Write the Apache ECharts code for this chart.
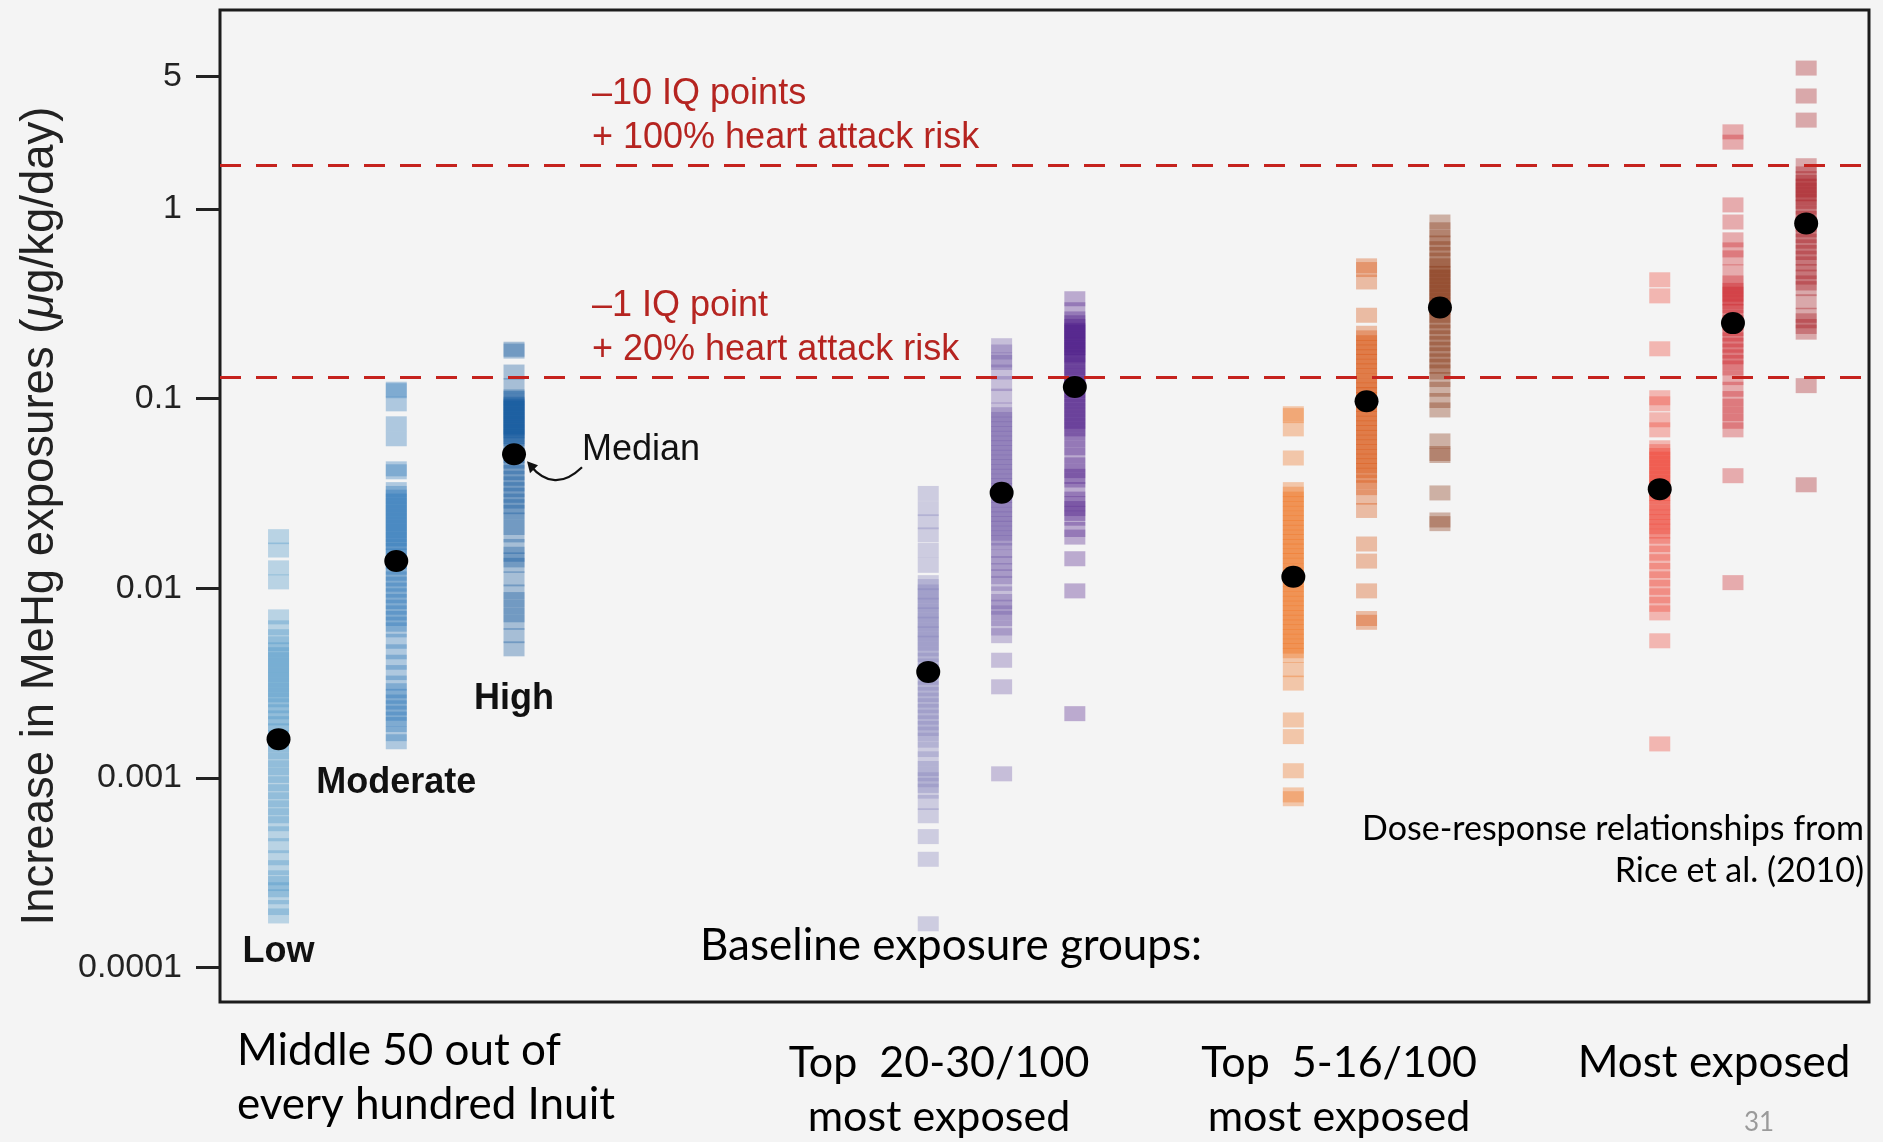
<!DOCTYPE html>
<html>
<head>
<meta charset="utf-8">
<script src="https://cdn.jsdelivr.net/npm/echarts@6/dist/echarts.min.js"></script>
<style>
  html, body { margin: 0; padding: 0; background: #f4f4f4; }
  #chart { width: 1883px; height: 1142px; }
</style>
</head>
<body>
<div id="chart"></div>
<script>
// ---- Axis ticks (µg/kg/day, log scale) ----
const tickValues = [0.0001, 0.001, 0.01, 0.1, 1, 5];
const tickLabels = ['0.0001', '0.001', '0.01', '0.1', '1', '5'];

// ---- Harm thresholds from dose-response relationships ----
const thresholdValues = [1.7, 0.13];
const thresholdTexts = ['–10 IQ points\n+ 100% heart attack risk', '–1 IQ point\n+ 20% heart attack risk'];

// ---- Simulated increases in MeHg exposure, per baseline group and scenario ----
const columnNames = ['Low', 'Moderate', 'High'];

const lowValues = [0.0187, 0.0159, 0.0128, 0.0108, 0.00706, 0.00618, 0.00555, 0.00509, 0.00473, 0.00446,
  0.00420, 0.00394, 0.00372, 0.00350, 0.00329, 0.00310, 0.00291, 0.00274, 0.00258, 0.00240, 0.00223,
  0.00207, 0.00193, 0.00177, 0.00163, 0.00149, 0.00137, 0.00124, 0.00113, 0.00103, 0.000931, 0.000845,
  0.000766, 0.000695, 0.000631, 0.000573, 0.000507, 0.000439, 0.000379, 0.000336, 0.000297, 0.000277,
  0.000257, 0.000236, 0.000207, 0.000187];

const moderateValues = [0.112, 0.110, 0.0938, 0.0736, 0.0614, 0.0426, 0.0411, 0.0331, 0.0316, 0.0302,
  0.0288, 0.0275, 0.0263, 0.0251, 0.0240, 0.0229, 0.0219, 0.0209, 0.0200, 0.0191, 0.0182, 0.0174, 0.0166,
  0.0158, 0.0148, 0.0138, 0.0129, 0.0120, 0.0112, 0.0105, 0.00977, 0.00912, 0.00851, 0.00794, 0.00741,
  0.00692, 0.00646, 0.00603, 0.00525, 0.00462, 0.00407, 0.00359, 0.00316, 0.00288, 0.00269, 0.00251,
  0.00234, 0.00219, 0.00204, 0.00191, 0.00171, 0.00155];

const highValues = [0.182, 0.178, 0.138, 0.117, 0.102, 0.100, 0.0977, 0.0933, 0.0912, 0.0891, 0.0851,
  0.0832, 0.0813, 0.0776, 0.0759, 0.0741, 0.0708, 0.0692, 0.0676, 0.0646, 0.0631, 0.0617, 0.0575, 0.0537,
  0.0501, 0.0468, 0.0437, 0.0407, 0.0380, 0.0355, 0.0331, 0.0309, 0.0288, 0.0269, 0.0251, 0.0229, 0.0209,
  0.0191, 0.0166, 0.0151, 0.0141, 0.0132, 0.0112, 0.00955, 0.00871, 0.00794, 0.00724, 0.00661, 0.00562,
  0.00479];

const top2030LowValues = [0.0316, 0.0263, 0.0224, 0.0191, 0.0158, 0.0132, 0.0107, 0.0102, 0.00955, 0.00912,
  0.00851, 0.00813, 0.00759, 0.00724, 0.00676, 0.00646, 0.00603, 0.00575, 0.00537, 0.00513, 0.00479,
  0.00447, 0.00417, 0.00389, 0.00363, 0.00339, 0.00316, 0.00295, 0.00275, 0.00257, 0.00240, 0.00224,
  0.00209, 0.00195, 0.00182, 0.00170, 0.00158, 0.00141, 0.00126, 0.00112, 0.00105, 0.000977, 0.000912,
  0.000851, 0.000741, 0.000631, 0.000490, 0.000372, 0.000170];

const top2030ModValues = [0.190, 0.176, 0.160, 0.155, 0.138, 0.120, 0.103, 0.0871, 0.0822, 0.0776, 0.0733,
  0.0692, 0.0653, 0.0617, 0.0582, 0.0550, 0.0519, 0.0490, 0.0462, 0.0437, 0.0412, 0.0389, 0.0367, 0.0347,
  0.0327, 0.0309, 0.0292, 0.0275, 0.0260, 0.0245, 0.0232, 0.0219, 0.0207, 0.0195, 0.0184, 0.0174, 0.0158,
  0.0146, 0.0135, 0.0124, 0.0115, 0.0106, 0.00933, 0.00851, 0.00794, 0.00741, 0.00692, 0.00617, 0.00562,
  0.00417, 0.00302, 0.00105];

const top2030HighValues = [0.336, 0.294, 0.263, 0.251, 0.245, 0.240, 0.229, 0.224, 0.219, 0.209, 0.204,
  0.200, 0.191, 0.186, 0.182, 0.174, 0.170, 0.166, 0.158, 0.151, 0.145, 0.138, 0.132, 0.126, 0.120, 0.115,
  0.110, 0.105, 0.100, 0.0955, 0.0912, 0.0871, 0.0832, 0.0794, 0.0759, 0.0724, 0.0692, 0.0661, 0.0603,
  0.0550, 0.0501, 0.0447, 0.0417, 0.0389, 0.0372, 0.0331, 0.0295, 0.0279, 0.0263, 0.0248, 0.0234, 0.0204,
  0.0186, 0.0143, 0.00968, 0.00218];

const top516LowValues = [0.0832, 0.0813, 0.0692, 0.0486, 0.0331, 0.0313, 0.0295, 0.0279, 0.0263, 0.0248,
  0.0234, 0.0221, 0.0209, 0.0197, 0.0186, 0.0176, 0.0166, 0.0157, 0.0148, 0.0140, 0.0132, 0.0124, 0.0117,
  0.0111, 0.0105, 0.00989, 0.00933, 0.00881, 0.00832, 0.00785, 0.00741, 0.00700, 0.00661, 0.00624,
  0.00589, 0.00556, 0.00525, 0.00495, 0.00468, 0.00442, 0.00372, 0.00316, 0.00202, 0.00165, 0.00109,
  0.000813, 0.000776];

const top516ModValues = [0.501, 0.479, 0.412, 0.275, 0.221, 0.209, 0.197, 0.186, 0.176, 0.166, 0.157,
  0.148, 0.140, 0.132, 0.124, 0.117, 0.111, 0.105, 0.0989, 0.0933, 0.0881, 0.0832, 0.0785, 0.0741, 0.0700,
  0.0661, 0.0624, 0.0589, 0.0556, 0.0525, 0.0495, 0.0468, 0.0442, 0.0417, 0.0394, 0.0363, 0.0339, 0.0302,
  0.0257, 0.0171, 0.0139, 0.00968, 0.00692, 0.00661];

const top516HighValues = [0.853, 0.776, 0.708, 0.661, 0.617, 0.575, 0.537, 0.501, 0.479, 0.457, 0.437,
  0.417, 0.398, 0.380, 0.363, 0.347, 0.331, 0.316, 0.302, 0.288, 0.275, 0.257, 0.240, 0.224, 0.209, 0.195,
  0.182, 0.170, 0.158, 0.148, 0.138, 0.126, 0.112, 0.0977, 0.0871, 0.0598, 0.0513, 0.0501, 0.0318, 0.0229,
  0.0219];

const mostLowValues = [0.423, 0.348, 0.183, 0.101, 0.0938, 0.0773, 0.0684, 0.0550, 0.0525, 0.0501, 0.0479,
  0.0457, 0.0437, 0.0417, 0.0398, 0.0380, 0.0363, 0.0347, 0.0331, 0.0316, 0.0302, 0.0282, 0.0266, 0.0251,
  0.0237, 0.0224, 0.0211, 0.0200, 0.0188, 0.0170, 0.0153, 0.0138, 0.0124, 0.0112, 0.0101, 0.00912,
  0.00822, 0.00741, 0.00528, 0.00151];

const mostModValues = [2.55, 2.25, 1.05, 0.853, 0.687, 0.608, 0.552, 0.466, 0.407, 0.389, 0.372, 0.355,
  0.339, 0.324, 0.309, 0.288, 0.269, 0.251, 0.234, 0.219, 0.204, 0.191, 0.178, 0.166, 0.155, 0.145, 0.129,
  0.112, 0.100, 0.0912, 0.0832, 0.0759, 0.0684, 0.0392, 0.0107];

const mostHighValues = [5.53, 3.94, 2.94, 1.69, 1.53, 1.445, 1.380, 1.318, 1.259, 1.202, 1.148, 1.096,
  1.023, 0.955, 0.891, 0.832, 0.776, 0.724, 0.676, 0.631, 0.589, 0.550, 0.513, 0.468, 0.437, 0.407, 0.380,
  0.324, 0.275, 0.257, 0.240, 0.224, 0.117, 0.0351];

// Median of each column, same order as the columns below
const medianValues = [0.0016, 0.0139, 0.0509, 0.00362, 0.0319, 0.115, 0.0115, 0.0968, 0.302, 0.0333, 0.250, 0.839];

// Group captions under the plot
const groupCaptions = [
  'Middle 50 out of\nevery hundred Inuit',
  'Top  20-30/100\nmost exposed',
  'Top  5-16/100\nmost exposed',
  'Most exposed'
];

// ---- Layout / styling ----
const columnSets = [lowValues, moderateValues, highValues,
  top2030LowValues, top2030ModValues, top2030HighValues,
  top516LowValues, top516ModValues, top516HighValues,
  mostLowValues, mostModValues, mostHighValues];
const columnX = [3.55, 10.69, 17.83, 42.95, 47.40, 51.84, 65.09, 69.53, 73.98, 87.31, 91.75, 96.19];
const columnColors = ['#4292c6', '#2171b5', '#08519c',
  '#807dba', '#6a51a3', '#4a1486',
  '#f16913', '#d94801', '#7f2704',
  '#ef3b2c', '#cb181d', '#a50f15'];
const nameOffsets = [29, 34, 43];

const HELV = "'Liberation Sans', Arial, Helvetica, sans-serif";
const CAL = "Lato, 'Open Sans', sans-serif";
const RED_TEXT = '#b52420';
const RED_LINE = '#c5221d';

const lg = v => Math.log10(v);
const tickPos = tickValues.map(lg);

const chart = echarts.init(document.getElementById('chart'), null, { renderer: 'canvas' });

const series = columnSets.map((vals, i) => ({
  type: 'scatter',
  symbol: 'rect',
  symbolSize: [21, 15],
  silent: true,
  z: 2,
  itemStyle: { color: columnColors[i], opacity: 0.33, borderWidth: 0 },
  data: vals.map(v => [columnX[i], lg(v)])
}));

series.push({
  type: 'line',
  data: [],
  silent: true,
  z: 3,
  markLine: {
    silent: true,
    symbol: ['none', 'none'],
    animation: false,
    label: { show: false },
    lineStyle: { type: [21, 15], color: RED_LINE, width: 3 },
    data: thresholdValues.map(v => ({ yAxis: lg(v) }))
  }
});

series.push({
  type: 'scatter',
  symbol: 'circle',
  symbolSize: [24, 22],
  silent: true,
  z: 5,
  itemStyle: { color: '#000', opacity: 1 },
  data: medianValues.map((v, i) => [columnX[i], lg(v)])
});

chart.setOption({
  backgroundColor: '#f4f4f4',
  animation: false,
  grid: {
    left: 220, top: 10, width: 1649, height: 992,
    show: true, borderColor: '#1c1c1c', borderWidth: 3, backgroundColor: 'transparent'
  },
  xAxis: { type: 'value', min: 0, max: 100, show: false },
  yAxis: {
    type: 'value',
    min: -4.182,
    max: 1.049,
    axisLine: { show: false },
    splitLine: { show: false },
    axisTick: {
      show: true, inside: false, length: 24,
      lineStyle: { color: '#222', width: 3 },
      customValues: tickPos
    },
    axisLabel: {
      customValues: tickPos,
      margin: 38,
      fontSize: 34,
      fontFamily: HELV,
      color: '#222',
      formatter: val => {
        const k = tickPos.findIndex(t => Math.abs(t - val) < 1e-6);
        return k >= 0 ? tickLabels[k] : '';
      }
    }
  },
  series: series
});

// ---- Annotations placed from the data coordinates ----
const toPx = (x, v) => chart.convertToPixel({ gridIndex: 0 }, [x, lg(v)]);
const graphics = [];

// Axis title
graphics.push({
  type: 'text', x: 40, y: 516, rotation: Math.PI / 2, silent: true,
  style: {
    text: '{n|Increase in MeHg exposures (}{i|μ}{n|g/kg/day)}',
    align: 'center', verticalAlign: 'middle',
    rich: {
      n: { fontSize: 45.5, fontFamily: HELV, fill: '#222' },
      i: { fontSize: 45.5, fontFamily: HELV, fontStyle: 'italic', fill: '#222' }
    }
  }
});

// Threshold captions above the dashed lines
thresholdValues.forEach((v, i) => {
  const p = toPx(0, v);
  graphics.push({
    type: 'text', x: 592, y: p[1] - 5, silent: true,
    style: {
      text: thresholdTexts[i], fill: RED_TEXT, fontSize: 36, fontFamily: HELV,
      lineHeight: 44, align: 'left', verticalAlign: 'bottom'
    }
  });
});

// Exposure-scenario names under the first three columns
columnNames.forEach((name, i) => {
  const lowest = Math.min(...columnSets[i]);
  const p = toPx(columnX[i], lowest);
  graphics.push({
    type: 'text', x: p[0], y: p[1] + 7 + nameOffsets[i], silent: true,
    style: {
      text: name, fill: '#111', fontSize: 36, fontWeight: 'bold', fontFamily: HELV,
      align: 'center', verticalAlign: 'middle'
    }
  });
});

// "Median" callout pointing to the high-scenario median
const m = toPx(columnX[2], medianValues[2]);
graphics.push({
  type: 'bezierCurve', silent: true,
  shape: { x1: m[0] + 68, y1: m[1] + 13, cpx1: m[0] + 40, cpy1: m[1] + 40, x2: m[0] + 16, y2: m[1] + 11 },
  style: { stroke: '#111', lineWidth: 2.2, fill: null }
});
graphics.push({
  type: 'polygon', silent: true,
  shape: { points: [[m[0] + 13, m[1] + 7], [m[0] + 24, m[1] + 11], [m[0] + 16, m[1] + 19]] },
  style: { fill: '#111' }
});
graphics.push({
  type: 'text', x: m[0] + 68, y: m[1] - 4, silent: true,
  style: { text: 'Median', fill: '#111', fontSize: 36, fontFamily: HELV, align: 'left', verticalAlign: 'middle' }
});

// Slide captions
graphics.push({
  type: 'text', x: 700, y: 946, silent: true,
  style: { text: 'Baseline exposure groups:', fill: '#000', fontSize: 44, fontFamily: CAL, align: 'left', verticalAlign: 'middle' }
});
graphics.push({
  type: 'text', x: 1864, y: 850, silent: true,
  style: {
    text: 'Dose-response relationships from\nRice et al. (2010)', fill: '#000', fontSize: 34, fontFamily: CAL,
    lineHeight: 42, align: 'right', verticalAlign: 'middle'
  }
});
graphics.push({
  type: 'text', x: 237, y: 1078, silent: true,
  style: { text: groupCaptions[0], fill: '#000', fontSize: 44, fontFamily: CAL, lineHeight: 54, align: 'left', verticalAlign: 'middle' }
});
graphics.push({
  type: 'text', x: 939, y: 1090, silent: true,
  style: { text: groupCaptions[1], fill: '#000', fontSize: 43, fontFamily: CAL, lineHeight: 54, align: 'center', verticalAlign: 'middle' }
});
graphics.push({
  type: 'text', x: 1339, y: 1090, silent: true,
  style: { text: groupCaptions[2], fill: '#000', fontSize: 43, fontFamily: CAL, lineHeight: 54, align: 'center', verticalAlign: 'middle' }
});
graphics.push({
  type: 'text', x: 1714, y: 1063, silent: true,
  style: { text: groupCaptions[3], fill: '#000', fontSize: 44, fontFamily: CAL, align: 'center', verticalAlign: 'middle' }
});
graphics.push({
  type: 'text', x: 1759, y: 1123, silent: true,
  style: { text: '31', fill: '#9a9a9a', fontSize: 26, fontFamily: CAL, align: 'center', verticalAlign: 'middle' }
});

chart.setOption({ graphic: graphics });
</script>
</body>
</html>
